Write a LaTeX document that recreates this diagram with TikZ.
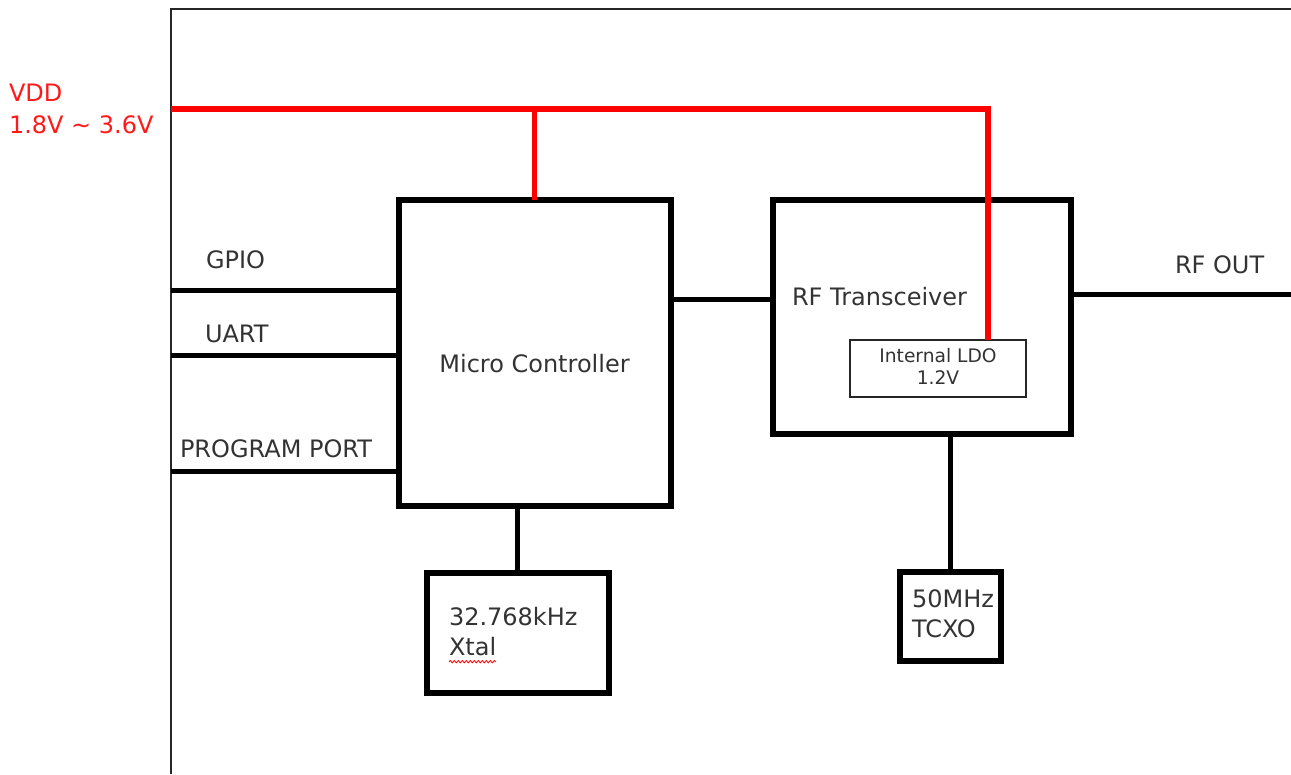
\documentclass[tikz,border=0pt]{standalone}
\usepackage{fontspec}
\setmainfont{DejaVu Sans}
\usetikzlibrary{fit,decorations.pathmorphing}
\begin{document}
\begin{tikzpicture}[x=0.75pt,y=-0.75pt,
  blk/.style={draw=black, line width=4.5pt, inner sep=0pt, outer sep=0pt},
  thinblk/.style={draw=black!85, line width=1.5pt, inner sep=0pt, outer sep=0pt},
  wire/.style={draw=black, line width=3.9pt},
  power/.style={draw=red, line width=3.9pt},
  frame/.style={draw=black!85, line width=1.5pt},
  lbl/.style={inner sep=0pt, outer sep=0pt, text=black!80, font=\fontsize{18pt}{20pt}\selectfont},
  smalllbl/.style={inner sep=0pt, outer sep=0pt, text=black!80, font=\fontsize{14pt}{16pt}\selectfont},
  redlbl/.style={inner sep=0pt, outer sep=0pt, text=red!90!white, font=\fontsize{18pt}{20pt}\selectfont}]
\useasboundingbox (0,0) rectangle (1291,774);

% outer frame
\coordinate (fbot) at (171,774);
\coordinate (fcorner) at (171,9);
\coordinate (fright) at (1291,9);
\draw[frame] (fbot) -- (fcorner) -- (fright);

% blocks
\node[blk, fit={(399,200) (670.5,506)}] (mcu) {};
\node[blk, fit={(772.5,200) (1071,434)}] (rf) {};
\node[thinblk, fit={(850,340) (1026,397)}] (ldo) {};
\node[blk, fit={(427,573) (608.5,693)}] (xtal) {};
\node[blk, fit={(899.5,572) (1001,660.5)}] (tcxo) {};

% connector anchors
\coordinate (gpio) at (171,290.5);
\coordinate (uart) at (171,355.5);
\coordinate (prog) at (171,471.5);
\coordinate (link) at (720,299.5);
\coordinate (rfout) at (1291,294.5);
\coordinate (vdd) at (171,109);
\coordinate (vddend) at (988,109);

% black connectors
\draw[wire] (gpio) -- (gpio -| mcu.west);
\draw[wire] (uart) -- (uart -| mcu.west);
\draw[wire] (prog) -- (prog -| mcu.west);
\draw[wire] (link -| mcu.east) -- (link -| rf.west);
\draw[wire] (rfout -| rf.east) -- (rfout);
\draw[wire] (xtal.north) -- (xtal.north |- mcu.south);
\draw[wire] (tcxo.north) -- (tcxo.north |- rf.south);

% power
\draw[power] (vdd) -- (vddend) -- (vddend |- ldo.north);
\draw[power] (mcu.north |- vdd) -- (mcu.north);

% labels
\node[redlbl, anchor=base west] (vddt) at (9,101) {VDD};
\node[redlbl, anchor=base west] (vddr) at (9,133) {1.8V \textasciitilde{} 3.6V};
\node[lbl, anchor=base west] (gpiot) at (206,268) {GPIO};
\node[lbl, anchor=base west] (uartt) at (205,342) {UART};
\node[lbl, anchor=base west] (progt) at (180,457) {PROGRAM PORT};
\node[lbl, anchor=base west] (rfoutt) at (1175,273) {RF OUT};
\node[lbl, anchor=base] (mcut) at (534.5,372) {Micro Controller};
\node[lbl, anchor=base west] (rft) at (792,305) {RF Transceiver};
\node[smalllbl, anchor=base] (ldot1) at (938,362) {Internal LDO};
\node[smalllbl, anchor=base] (ldot2) at (938,384) {1.2V};
\node[lbl, anchor=base west] (xt1) at (449,625) {32.768kHz};
\node[lbl, anchor=base west] (xt2) at (449,655) {Xtal};
\node[lbl, anchor=base west] (tc1) at (912,607) {50MHz};
\node[lbl, anchor=base west] (tc2) at (912,637) {TCXO};

% spell-check wavy underline
\draw[red, line width=0.6pt, decorate, decoration={snake, amplitude=0.9pt, segment length=3pt}]
  ([yshift=-5pt]xt2.base west) -- ([yshift=-5pt]xt2.base east);
\end{tikzpicture}
\end{document}
